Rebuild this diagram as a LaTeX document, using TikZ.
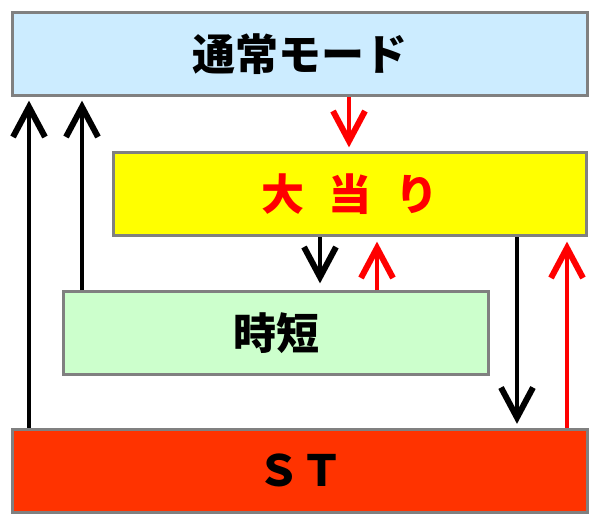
\documentclass[tikz,border=0pt]{standalone}
\usepackage{fontspec}
\newfontfamily\jp{Noto Sans CJK JP Black}
\usetikzlibrary{arrows.meta}
\definecolor{topblue}{HTML}{CCECFF}
\definecolor{yel}{HTML}{FFFF00}
\definecolor{grn}{HTML}{CCFFCC}
\definecolor{stred}{HTML}{FF3300}
\definecolor{tred}{HTML}{FF0000}
\definecolor{edge}{HTML}{808080}
\begin{document}
\begin{tikzpicture}[x=1pt,y=-1pt,
  box/.style={draw=edge, line width=3pt, minimum width=#1, minimum height=83pt, inner sep=0pt},
  lbl/.style={font=\jp\fontsize{43}{43}\selectfont},
  blk/.style={line width=4.5pt},
  rd/.style={line width=4pt, tred},
  headup/.style={line join=miter, line width=6pt},
]
\useasboundingbox (0,0) rectangle (600,525);
\node[box=575pt, fill=topblue, lbl] (top) at (300,54) {通常モード};
\node[box=473pt, fill=yel, lbl, text=tred] (yel) at (350,194) {大\hspace{0.55em}当\hspace{0.55em}り};
\node[box=425pt, fill=grn, lbl] (grn) at (276,333) {時短};
\node[box=575pt, fill=stred, lbl] (st) at (300,470.5) {ＳＴ};
\coordinate (xa) at (29,0);
\coordinate (xb) at (82,0);
\coordinate (xc) at (349,0);
\coordinate (xd) at (320,0);
\coordinate (xe) at (377,0);
\coordinate (xf) at (517,0);
\coordinate (xg) at (567,0);
% up arrows: tip y offsets (y axis points down)
\draw[blk] (xa |- st.north) -- ([yshift=-10pt]xa |- top.south) coordinate (ta);
\draw[blk, headup] ([shift={(-16,30)}]ta) -- (ta) -- ([shift={(16,30)}]ta);
\draw[blk] (xb |- grn.north) -- ([yshift=-10pt]xb |- top.south) coordinate (tb);
\draw[blk, headup] ([shift={(-16,30)}]tb) -- (tb) -- ([shift={(16,30)}]tb);
\draw[rd] (xc |- top.south) -- ([yshift=10pt]xc |- yel.north) coordinate (tc);
\draw[rd, headup] ([shift={(-16,-30)}]tc) -- (tc) -- ([shift={(16,-30)}]tc);
\draw[blk] (xd |- yel.south) -- ([yshift=13pt]xd |- grn.north) coordinate (td);
\draw[blk, headup] ([shift={(-16,-30)}]td) -- (td) -- ([shift={(16,-30)}]td);
\draw[rd] (xe |- grn.north) -- ([yshift=-11pt]xe |- yel.south) coordinate (te);
\draw[rd, headup] ([shift={(-16,30)}]te) -- (te) -- ([shift={(16,30)}]te);
\draw[blk] (xf |- yel.south) -- ([yshift=10pt]xf |- st.north) coordinate (tf);
\draw[blk, headup] ([shift={(-16,-30)}]tf) -- (tf) -- ([shift={(16,-30)}]tf);
\draw[rd] (xg |- st.north) -- ([yshift=-11pt]xg |- yel.south) coordinate (tg);
\draw[rd, headup] ([shift={(-16,30)}]tg) -- (tg) -- ([shift={(16,30)}]tg);
\end{tikzpicture}
\end{document}
